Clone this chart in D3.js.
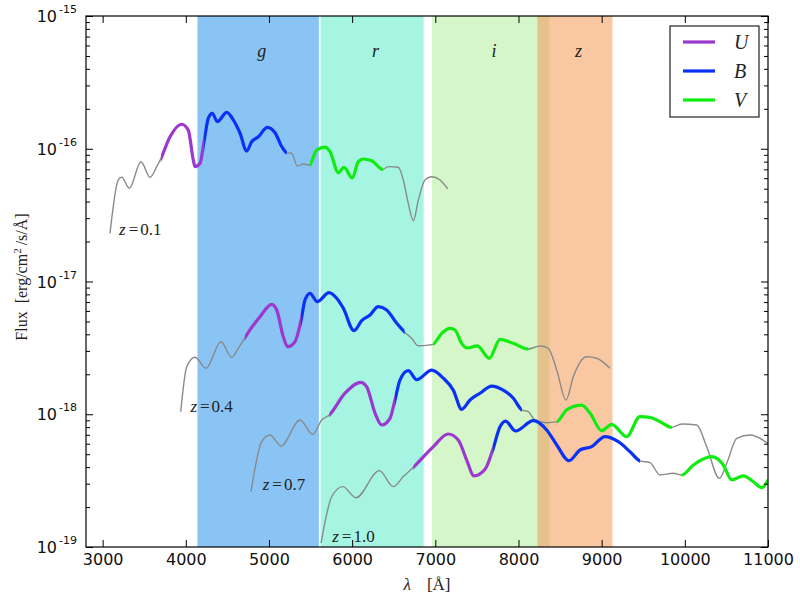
<!DOCTYPE html>
<html>
<head>
<meta charset="utf-8">
<script src="https://cdn.jsdelivr.net/npm/d3@7"></script>
<style>
  html, body { margin: 0; padding: 0; background: #fff; }
  svg { display: block; }
</style>
</head>
<body>
<svg id="chart" width="800" height="594"></svg>
<script>
// ---------------- DATA ----------------
const xTicks = [3000, 4000, 5000, 6000, 7000, 8000, 9000, 10000, 11000];
const yTickExps = [-19, -18, -17, -16, -15];

const bandNames = ["g", "r", "i", "z"];
const bandRanges = [[4140, 5600], [5620, 6860], [6960, 8370], [8230, 9130]];
const bandColors = ["#89c4f4", "#a6f5e3", "#d5f6c8", "#f9c8a3"];
const overlapRange = [8230, 8370];
const overlapColor = "#e5c28b";

const filterNames = ["U", "B", "V"];
const filterColors = ["#9b38cf", "#0a32f5", "#10ec10"];

const redshiftLabels = ["0.1", "0.4", "0.7", "1.0"];

// spectra: [wavelength (Å), flux (erg/cm²/s/Å)]
const specZ01 = [
  [3089, 2.31e-17], [3188, 5.82e-17], [3229, 6.10e-17], [3321, 5.04e-17], [3461, 7.99e-17],
  [3570, 6.10e-17], [3650, 7.33e-17], [3702, 8.48e-17], [3810, 1.23e-16], [3951, 1.53e-16],
  [4030, 1.38e-16], [4090, 8.23e-17], [4111, 7.33e-17], [4171, 7.77e-17], [4219, 1.13e-16],
  [4271, 1.70e-16], [4319, 1.85e-16], [4379, 1.60e-16], [4492, 1.88e-16], [4571, 1.65e-16],
  [4652, 1.31e-16], [4732, 9.62e-17], [4792, 1.13e-16], [4872, 1.23e-16], [4980, 1.45e-16],
  [5073, 1.32e-16], [5153, 1.04e-16], [5213, 9.34e-17], [5273, 9.24e-17], [5341, 7.41e-17],
  [5413, 7.68e-17], [5485, 7.54e-17], [5574, 9.79e-17], [5674, 1.03e-16], [5734, 9.50e-17],
  [5834, 6.60e-17], [5902, 7.25e-17], [6002, 6.02e-17], [6074, 7.99e-17], [6134, 8.37e-17],
  [6235, 8.13e-17], [6368, 7.00e-17], [6435, 7.33e-17], [6555, 7.25e-17], [6615, 5.82e-17],
  [6675, 3.88e-17], [6736, 2.87e-17], [6796, 4.11e-17], [6876, 5.82e-17], [6957, 6.16e-17],
  [7057, 5.82e-17], [7149, 5.00e-17]
];
const specZ04 = [
  [3939, 1.045e-18], [4011, 2.28e-18], [4111, 2.69e-18], [4243, 2.22e-18], [4423, 3.52e-18],
  [4552, 2.69e-18], [4631, 3.14e-18], [4712, 3.80e-18], [4892, 5.43e-18], [5033, 6.73e-18],
  [5093, 6.10e-18], [5172, 3.84e-18], [5224, 3.23e-18], [5313, 3.52e-18], [5385, 5.07e-18],
  [5433, 7.26e-18], [5493, 8.15e-18], [5581, 7.05e-18], [5722, 8.24e-18], [5814, 7.47e-18],
  [5894, 6.28e-18], [6022, 4.26e-18], [6115, 5.07e-18], [6215, 5.59e-18], [6314, 6.46e-18],
  [6415, 6.10e-18], [6536, 4.84e-18], [6627, 4.19e-18], [6716, 3.73e-18], [6796, 3.28e-18],
  [6916, 3.32e-18], [6976, 3.38e-18], [7077, 4.07e-18], [7177, 4.44e-18], [7237, 4.31e-18],
  [7317, 3.42e-18], [7381, 3.16e-18], [7505, 3.27e-18], [7649, 2.64e-18], [7778, 3.67e-18],
  [7938, 3.42e-18], [8118, 3.10e-18], [8259, 3.27e-18], [8359, 3.14e-18], [8460, 2.15e-18],
  [8572, 1.28e-18], [8659, 1.92e-18], [8820, 2.71e-18], [8940, 2.64e-18], [9100, 2.22e-18]
];
const specZ07 = [
  [4784, 2.61e-19], [4913, 6.21e-19], [5012, 6.98e-19], [5145, 5.77e-19], [5373, 9.05e-19],
  [5526, 7.06e-19], [5634, 9.05e-19], [5725, 9.87e-19], [5914, 1.44e-18], [6103, 1.74e-18],
  [6175, 1.61e-18], [6275, 1.02e-18], [6355, 8.30e-19], [6455, 9.32e-19], [6515, 1.28e-18],
  [6575, 1.81e-18], [6675, 2.13e-18], [6776, 1.82e-18], [6957, 2.15e-18], [7096, 1.87e-18],
  [7216, 1.52e-18], [7317, 1.09e-18], [7417, 1.28e-18], [7537, 1.44e-18], [7678, 1.63e-18],
  [7817, 1.52e-18], [7938, 1.32e-18], [8039, 1.08e-18], [8118, 1.045e-18], [8199, 9.05e-19],
  [8340, 8.64e-19], [8460, 8.79e-19], [8580, 1.08e-18], [8760, 1.17e-18], [8860, 1.02e-18],
  [9001, 7.52e-19], [9121, 8.40e-19], [9300, 6.78e-19], [9460, 9.58e-19], [9581, 9.48e-19],
  [9702, 8.79e-19], [9842, 7.97e-19], [9963, 8.44e-19], [10143, 8.30e-19], [10263, 5.70e-19],
  [10415, 3.29e-19], [10504, 4.27e-19], [10624, 6.59e-19], [10784, 6.98e-19], [11000, 6.04e-19]
];
const specZ10 = [
  [5626, 1.07e-19], [5754, 2.39e-19], [5887, 2.85e-19], [6046, 2.35e-19], [6327, 3.76e-19],
  [6495, 2.85e-19], [6615, 3.39e-19], [6735, 3.98e-19], [6976, 5.70e-19], [7155, 7.10e-19],
  [7276, 6.40e-19], [7377, 4.52e-19], [7465, 3.43e-19], [7598, 3.85e-19], [7690, 5.38e-19],
  [7778, 8.05e-19], [7844, 8.89e-19], [7964, 7.48e-19], [8178, 8.94e-19], [8339, 7.61e-19],
  [8460, 5.87e-19], [8607, 4.47e-19], [8740, 5.38e-19], [8880, 5.70e-19], [9040, 6.78e-19],
  [9200, 6.21e-19], [9341, 5.22e-19], [9461, 4.45e-19], [9581, 4.32e-19], [9702, 3.49e-19],
  [9862, 3.59e-19], [9963, 3.49e-19], [10103, 4.15e-19], [10324, 4.79e-19], [10463, 4.15e-19],
  [10564, 3.20e-19], [10703, 3.43e-19], [10823, 3.10e-19], [10925, 2.80e-19], [11000, 3.20e-19]
];
const spectra = [specZ01, specZ04, specZ07, specZ10];

// U, B, V wavelength spans (Å) on each spectrum
const ubvRangesZ01 = [[3700, 4220], [4220, 5215], [5490, 6370]];
const ubvRangesZ04 = [[4710, 5385], [5385, 6630], [6976, 8118]];
const ubvRangesZ07 = [[5725, 6515], [6515, 8040], [8460, 9843]];
const ubvRangesZ10 = [[6735, 7690], [7690, 9462], [9963, 11000]];
const ubvRanges = [ubvRangesZ01, ubvRangesZ04, ubvRangesZ07, ubvRangesZ10];

// label anchors (wavelength, flux) for the z= annotations
const zLabelAnchors = [[3197, 2.25e-17], [4055, 1.04e-18], [4925, 2.70e-19], [5760, 1.09e-19]];

// ---------------- CHART ----------------
const svg = d3.select("#chart");
const L = 86, R = 768, T = 16, B = 547;
const SERIF = "'Liberation Serif', 'DejaVu Serif', serif";
const SANS = "'DejaVu Sans', sans-serif";

const x = d3.scaleLinear().domain([2800, 11000]).range([L, R]);
const y = d3.scaleLog().domain([1e-19, 1e-15]).range([B, T]);

const defs = svg.append("defs");
defs.append("clipPath").attr("id", "plotclip")
  .append("rect").attr("x", L).attr("y", T).attr("width", R - L).attr("height", B - T);

const plot = svg.append("g").attr("clip-path", "url(#plotclip)");

// bands
bandRanges.forEach((r, i) => {
  plot.append("rect")
    .attr("x", x(r[0])).attr("y", T)
    .attr("width", x(r[1]) - x(r[0])).attr("height", B - T)
    .attr("fill", bandColors[i]);
});
plot.append("rect")
  .attr("x", x(overlapRange[0])).attr("y", T)
  .attr("width", x(overlapRange[1]) - x(overlapRange[0])).attr("height", B - T)
  .attr("fill", overlapColor);

// band labels
bandNames.forEach((n, i) => {
  const r = bandRanges[i];
  const cx = x((r[0] + r[1]) / 2) + 3.5;
  svg.append("text")
    .attr("x", cx).attr("y", 57)
    .attr("text-anchor", "middle")
    .attr("font-family", SERIF)
    .attr("font-style", "italic")
    .attr("font-size", 18)
    .attr("fill", "#222")
    .text(n);
});

// spectra
const line = d3.line()
  .x(d => x(d[0]))
  .y(d => y(d[1]))
  .curve(d3.curveMonotoneX);

spectra.forEach((spec, si) => {
  plot.append("path")
    .attr("d", line(spec))
    .attr("fill", "none")
    .attr("stroke", "#8a8a8a")
    .attr("stroke-width", 1.4);

  ubvRanges[si].forEach((rg, fi) => {
    const id = `clip_${si}_${fi}`;
    defs.append("clipPath").attr("id", id)
      .append("rect")
      .attr("x", x(rg[0])).attr("y", T)
      .attr("width", x(rg[1]) - x(rg[0])).attr("height", B - T);
    plot.append("g").attr("clip-path", `url(#${id})`)
      .append("path")
      .attr("d", line(spec))
      .attr("fill", "none")
      .attr("stroke", filterColors[fi])
      .attr("stroke-width", 3.2)
      .attr("stroke-linejoin", "round");
  });
});

// z labels
zLabelAnchors.forEach((a, i) => {
  const t = svg.append("text")
    .attr("x", x(a[0])).attr("y", y(a[1]))
    .attr("font-family", SERIF)
    .attr("font-size", 17)
    .attr("fill", "#222");
  t.append("tspan").attr("font-style", "italic").text("z");
  t.append("tspan").attr("dx", 3).text("=");
  t.append("tspan").attr("dx", 2).text(redshiftLabels[i]);
});

// frame
svg.append("rect")
  .attr("x", L).attr("y", T).attr("width", R - L).attr("height", B - T)
  .attr("fill", "none").attr("stroke", "#000").attr("stroke-width", 1.2);

// x axis (bottom and top ticks, inward)
const xAxisB = d3.axisBottom(x).tickValues(xTicks).tickSize(-7).tickPadding(7).tickFormat(d3.format("d"));
const gxb = svg.append("g").attr("transform", `translate(0,${B})`).call(xAxisB);
const xAxisT = d3.axisTop(x).tickValues(xTicks).tickSize(-7).tickFormat("");
const gxt = svg.append("g").attr("transform", `translate(0,${T})`).call(xAxisT);
[gxb, gxt].forEach(g => {
  g.select(".domain").remove();
  g.selectAll(".tick line").attr("stroke", "#000").attr("stroke-width", 1);
});
gxb.selectAll(".tick text")
  .attr("font-family", SANS)
  .attr("font-size", 16).attr("fill", "#111");

// y axis major ticks
const yMajor = yTickExps.map(e => Math.pow(10, e));
const yAxisL = d3.axisLeft(y).tickValues(yMajor).tickSize(-7).tickFormat("");
const yAxisR = d3.axisRight(y).tickValues(yMajor).tickSize(-7).tickFormat("");
const gyl = svg.append("g").attr("transform", `translate(${L},0)`).call(yAxisL);
const gyr = svg.append("g").attr("transform", `translate(${R},0)`).call(yAxisR);

// minor ticks
const yMinor = [];
yTickExps.slice(0, -1).forEach(e => {
  for (let k = 2; k <= 9; k++) yMinor.push(k * Math.pow(10, e));
});
const yAxisLm = d3.axisLeft(y).tickValues(yMinor).tickSize(-4).tickFormat("");
const yAxisRm = d3.axisRight(y).tickValues(yMinor).tickSize(-4).tickFormat("");
const gylm = svg.append("g").attr("transform", `translate(${L},0)`).call(yAxisLm);
const gyrm = svg.append("g").attr("transform", `translate(${R},0)`).call(yAxisRm);
[gyl, gyr, gylm, gyrm].forEach(g => {
  g.select(".domain").remove();
  g.selectAll(".tick line").attr("stroke", "#000").attr("stroke-width", 1);
});

// y tick labels with superscripts
yTickExps.forEach(e => {
  const yy = y(Math.pow(10, e));
  svg.append("text")
    .attr("x", L - 29).attr("y", yy + 6)
    .attr("text-anchor", "end")
    .attr("font-family", SANS)
    .attr("font-size", 16).attr("fill", "#111")
    .text("10");
  svg.append("text")
    .attr("x", L - 27).attr("y", yy - 3)
    .attr("text-anchor", "start")
    .attr("font-family", SANS)
    .attr("font-size", 11).attr("fill", "#111")
    .text("-" + Math.abs(e));
});

// axis labels
const ylab = svg.append("text")
  .attr("transform", `translate(27,277) rotate(-90)`)
  .attr("text-anchor", "middle")
  .attr("font-family", SERIF)
  .attr("font-size", 16).attr("fill", "#222");
ylab.append("tspan").text("Flux");
ylab.append("tspan").attr("dx", 8).text("[erg/cm");
ylab.append("tspan").attr("font-size", 11).attr("dy", -6).text("2");
ylab.append("tspan").attr("dy", 6).attr("dx", 3).text("/s/Å]");

const xlab = svg.append("text")
  .attr("x", 427).attr("y", 590)
  .attr("text-anchor", "middle")
  .attr("font-family", SERIF)
  .attr("font-size", 17).attr("fill", "#222");
xlab.append("tspan").attr("font-style", "italic").text("λ");
xlab.append("tspan").attr("dx", 16).text("[Å]");

// legend
const lg = svg.append("g");
lg.append("rect")
  .attr("x", 670).attr("y", 26).attr("width", 89).attr("height", 91)
  .attr("fill", "#fff").attr("stroke", "#222").attr("stroke-width", 1.2);
filterNames.forEach((n, i) => {
  const yy = 42 + i * 29;
  lg.append("line")
    .attr("x1", 683).attr("x2", 715).attr("y1", yy).attr("y2", yy)
    .attr("stroke", filterColors[i]).attr("stroke-width", 3.2);
  lg.append("text")
    .attr("x", 734).attr("y", yy + 7)
    .attr("font-family", SERIF)
    .attr("font-style", "italic")
    .attr("font-size", 20).attr("fill", "#222")
    .text(n);
});
</script>
</body>
</html>
